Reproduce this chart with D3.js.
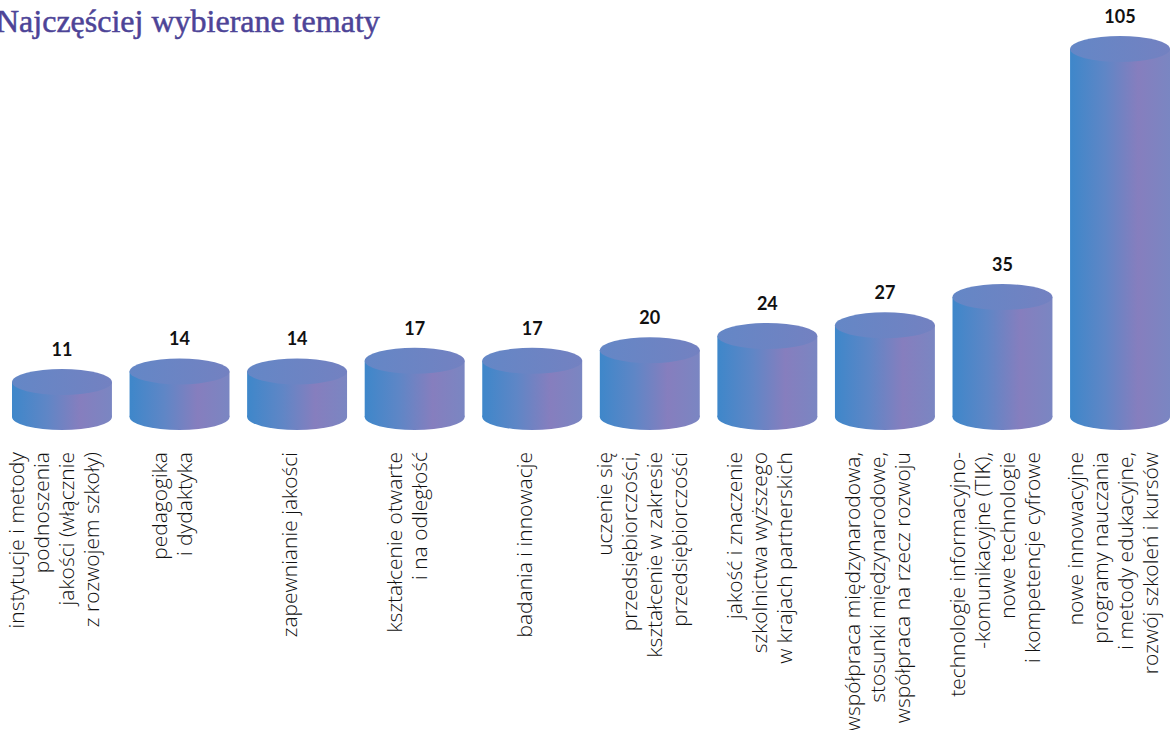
<!DOCTYPE html>
<html>
<head>
<meta charset="utf-8">
<script src="https://cdn.jsdelivr.net/npm/d3@7"></script>
<style>
  body { margin: 0; background: #fff; }
  svg { display: block; }
</style>
</head>
<body>
<div id="chart"></div>
<script>
// dane
var categories = [
    ["instytucje i metody", "podnoszenia", "jakości (włącznie", "z rozwojem szkoły)"],
    ["pedagogika", "i dydaktyka"],
    ["zapewnianie jakości"],
    ["kształcenie otwarte", "i na odległość"],
    ["badania i innowacje"],
    ["uczenie się", "przedsiębiorczości,", "kształcenie w zakresie", "przedsiębiorczości"],
    ["jakość i znaczenie", "szkolnictwa wyższego", "w krajach partnerskich"],
    ["współpraca międzynarodowa,", "stosunki międzynarodowe,", "współpraca na rzecz rozwoju"],
    ["technologie informacyjno-", "-komunikacyjne (TIK),", "nowe technologie", "i kompetencje cyfrowe"],
    ["nowe innowacyjne", "programy nauczania", "i metody edukacyjne,", "rozwój szkoleń i kursów"]
];
var values = [11, 14, 14, 17, 17, 20, 24, 27, 35, 105];
var title = "Najczęściej wybierane tematy";

var width = 1174, height = 730;
var baseY = 417, ry = 13;

var svg = d3.select('#chart').append('svg').attr('width', width).attr('height', height);

var defs = svg.append('defs');
var sideGrad = defs.append('linearGradient').attr('id', 'side');
[[0, '#3e87ca'], [0.35, '#5f86c6'], [0.68, '#867ebe'], [1, '#7a86c2']].forEach(function(s) {
    sideGrad.append('stop').attr('offset', s[0]).attr('stop-color', s[1]);
});
var topGrad = defs.append('linearGradient').attr('id', 'topg');
[[0, '#6487c6'], [1, '#7381c1']].forEach(function(s) {
    topGrad.append('stop').attr('offset', s[0]).attr('stop-color', s[1]);
});

var x = d3.scaleBand().domain(d3.range(values.length)).range([12, 1170]).paddingInner(0.15).paddingOuter(0);
var y = d3.scaleLinear().domain([0, 105]).range([421, 49]);

// tytul (w oryginale lekko uciety z lewej)
svg.append('text').text(title)
    .attr('x', -4).attr('y', 32)
    .attr('font-family', 'Liberation Serif, serif')
    .attr('font-size', 32)
    .attr('fill', '#4d4497')
    .attr('stroke', '#4d4497')
    .attr('stroke-width', 0.5);

var g = svg.selectAll('.cyl').data(values).enter().append('g').attr('class', 'cyl');

// bok walca
g.append('rect')
    .attr('x', function(d, i) { return x(i); })
    .attr('y', function(d) { return y(d); })
    .attr('width', x.bandwidth())
    .attr('height', function(d) { return baseY - y(d); })
    .attr('fill', 'url(#side)');
g.append('ellipse')
    .attr('cx', function(d, i) { return x(i) + x.bandwidth() / 2; })
    .attr('cy', baseY)
    .attr('rx', x.bandwidth() / 2).attr('ry', ry)
    .attr('fill', 'url(#side)');
// gora walca
g.append('ellipse')
    .attr('cx', function(d, i) { return x(i) + x.bandwidth() / 2; })
    .attr('cy', function(d) { return y(d); })
    .attr('rx', x.bandwidth() / 2).attr('ry', ry)
    .attr('fill', 'url(#topg)');

// wartosci
g.append('text').text(function(d) { return d; })
    .attr('x', function(d, i) { return x(i) + x.bandwidth() / 2; })
    .attr('y', function(d) { return y(d) - ry - 13; })
    .attr('text-anchor', 'middle')
    .attr('font-family', 'Lato, sans-serif')
    .attr('font-weight', 'bold')
    .attr('font-size', 18)
    .attr('fill', '#111');

// etykiety kategorii, obrocone
var lineH = 25;
svg.selectAll('.cat').data(categories).enter().append('text')
    .attr('class', 'cat')
    .attr('transform', function(d, i) {
        return 'translate(' + (x(i) + x.bandwidth() / 2) + ',452) rotate(-90)';
    })
    .attr('text-anchor', 'end')
    .attr('font-family', 'Open Sans, sans-serif')
    .attr('font-weight', 300)
    .attr('font-size', 21)
    .attr('fill', '#111')
    .each(function(lines) {
        var t = d3.select(this);
        lines.forEach(function(l, j) {
            t.append('tspan').text(l)
                .attr('x', 0)
                .attr('y', (j - (lines.length - 1) / 2) * lineH);
        });
    });
</script>
</body>
</html>
